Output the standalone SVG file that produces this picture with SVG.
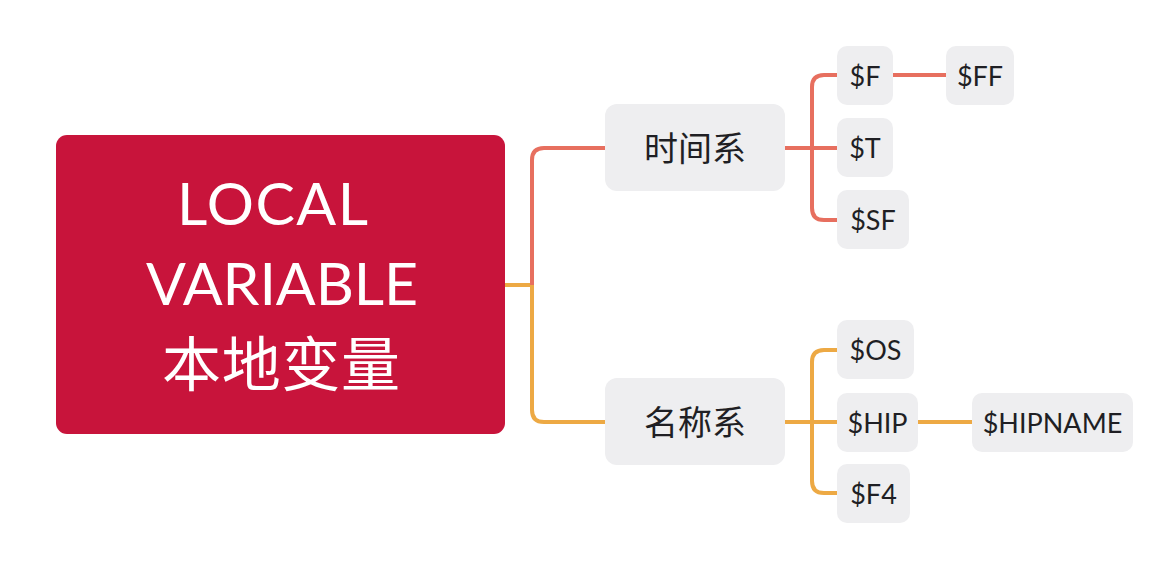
<svg xmlns="http://www.w3.org/2000/svg" width="1164" height="563" viewBox="0 0 1164 563">
<style>
.node rect{fill:#EEEEF0}
.sm{font-family:Lato,"Liberation Sans",sans-serif;font-size:27px;fill:#1f1f24;text-anchor:middle}
.cn{font-family:"Noto Sans CJK SC",sans-serif;font-size:34px;fill:#1f1f24;text-anchor:middle}
.root{font-family:Lato,"Liberation Sans","Noto Sans CJK SC",sans-serif;font-size:59px;fill:#fff}
.r{stroke:#E76F5F;stroke-width:4;fill:none}
.o{stroke:#EDA944;stroke-width:4;fill:none}
</style>
<rect width="1164" height="563" fill="#fff"/>
<g id="connectors">
<path class="o" d="M505 285 H532"/>
<path class="r" d="M532 285 V160 Q532 148 544 148 H605"/>
<path class="o" d="M532 285 V410 Q532 422 544 422 H605"/>
<path class="r" d="M785 148 H837"/>
<path class="r" d="M837 75 H824 Q812 75 812 87 V208 Q812 220 824 220 H837"/>
<path class="r" d="M893 75 H946"/>
<path class="o" d="M785 422 H837"/>
<path class="o" d="M837 350 H824 Q812 350 812 362 V481 Q812 493 824 493 H837"/>
<path class="o" d="M918 422 H972"/>
</g>
<g id="root">
<rect x="56" y="135" width="449" height="299" rx="11" fill="#C8143B"/>
<text class="root" x="177" y="225" textLength="191">LOCAL</text>
<text class="root" x="146" y="305" textLength="272">VARIABLE</text>
<text class="root" x="162" y="386" style="font-family:'Noto Sans CJK SC',sans-serif" textLength="238">本地变量</text>
</g>
<g id="n-time" class="node">
<rect x="605" y="104" width="180" height="87" rx="12"/>
<text class="cn" x="695" y="161">时间系</text>
</g>
<g id="n-name" class="node">
<rect x="605" y="378" width="180" height="87" rx="12"/>
<text class="cn" x="695" y="435">名称系</text>
</g>
<g id="n-F" class="node">
<rect x="837" y="46" width="56" height="59" rx="10"/>
<text class="sm" x="865" y="86">$F</text>
</g>
<g id="n-FF" class="node">
<rect x="946" y="46" width="68" height="59" rx="10"/>
<text class="sm" x="980" y="86">$FF</text>
</g>
<g id="n-T" class="node">
<rect x="837" y="118" width="56" height="59" rx="10"/>
<text class="sm" x="865" y="158">$T</text>
</g>
<g id="n-SF" class="node">
<rect x="837" y="190" width="72" height="59" rx="10"/>
<text class="sm" x="873" y="230">$SF</text>
</g>
<g id="n-OS" class="node">
<rect x="837" y="320" width="77" height="59" rx="10"/>
<text class="sm" x="875.5" y="360">$OS</text>
</g>
<g id="n-HIP" class="node">
<rect x="837" y="393" width="81" height="59" rx="10"/>
<text class="sm" x="877.5" y="433">$HIP</text>
</g>
<g id="n-HIPNAME" class="node">
<rect x="972" y="393" width="161" height="59" rx="10"/>
<text class="sm" x="1052.5" y="433">$HIPNAME</text>
</g>
<g id="n-F4" class="node">
<rect x="837" y="464" width="73" height="59" rx="10"/>
<text class="sm" x="873.5" y="504">$F4</text>
</g>
</svg>
